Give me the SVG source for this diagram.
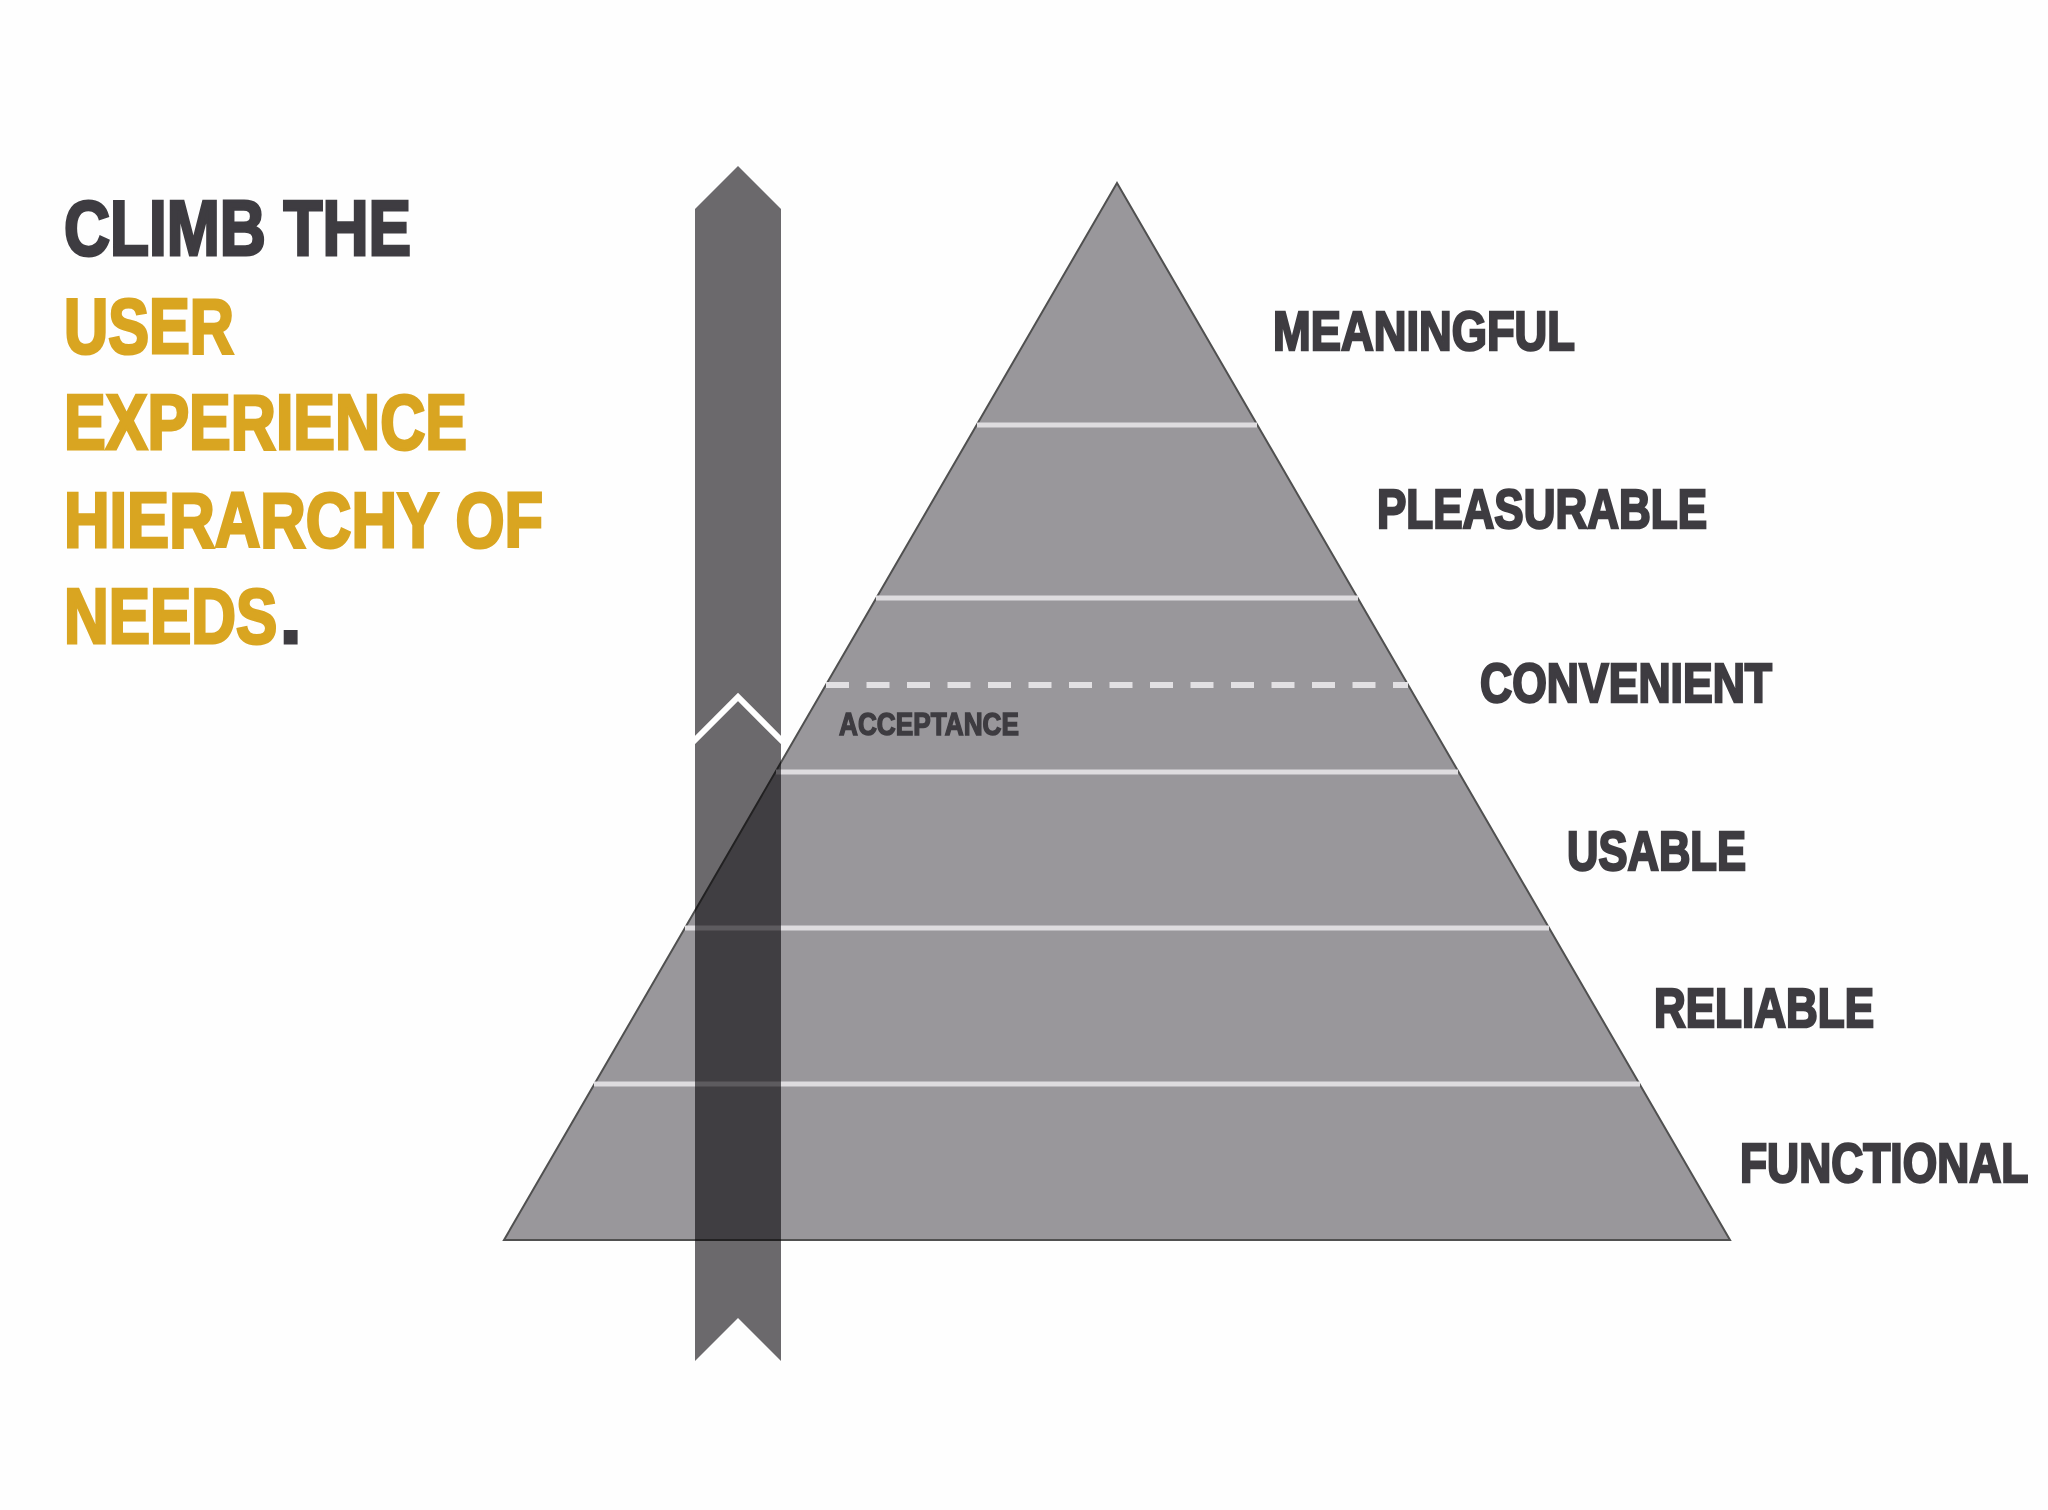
<svg xmlns="http://www.w3.org/2000/svg" width="2048" height="1510" viewBox="0 0 2048 1510">
<style>
.t{font-family:"Liberation Sans",Arial,sans-serif;font-weight:bold;stroke-linejoin:miter;}
.dk{fill:#3e3c41;stroke:#3e3c41;}
.gd{fill:#d9a521;stroke:#d9a521;}
.lvl{stroke:#dedcdf;stroke-width:5;fill:none;}
</style>
<rect width="2048" height="1510" fill="#fefefe"/>
<g id="title" class="t" font-size="77" stroke-width="3">
<text class="dk" x="64" y="255" textLength="347" lengthAdjust="spacingAndGlyphs">CLIMB THE</text>
<text class="gd" x="64" y="353" textLength="170" lengthAdjust="spacingAndGlyphs">USER</text>
<text class="gd" x="64" y="449" textLength="403" lengthAdjust="spacingAndGlyphs">EXPERIENCE</text>
<text class="gd" x="64" y="547" textLength="479" lengthAdjust="spacingAndGlyphs">HIERARCHY OF</text>
<text class="gd" transform="translate(64,643) scale(0.804,1)" x="0" y="0">NEEDS</text>
<text class="dk" x="280" y="643">.</text>
</g>
<g id="pyramid">
<polygon points="1117,183 1730,1240 504,1240" fill="#99979b" stroke="#505050" stroke-width="2" stroke-linejoin="miter"/>
<line class="lvl" x1="977" y1="425" x2="1257" y2="425"/>
<line class="lvl" x1="876" y1="598" x2="1358" y2="598"/>
<line x1="826" y1="685" x2="1408" y2="685" stroke="#e2e0e3" stroke-width="6" stroke-dasharray="23 17.5"/>
<line class="lvl" x1="776" y1="772" x2="1458" y2="772"/>
<line class="lvl" x1="685" y1="928" x2="1549" y2="928"/>
<line class="lvl" x1="594" y1="1084" x2="1640" y2="1084"/>
</g>
<g id="arrow">
<polygon points="695,209 738,166 781,209 781,1361 738,1318 695,1361" fill="#6b696c" style="mix-blend-mode:multiply"/>
<polyline points="693,742 738,697 783,742" fill="none" stroke="#ffffff" stroke-width="6"/>
</g>
<g id="labels" class="t dk" stroke-width="2.5">
<text x="1273" y="350" font-size="55" textLength="302" lengthAdjust="spacingAndGlyphs">MEANINGFUL</text>
<text x="1377" y="528" font-size="55" textLength="330" lengthAdjust="spacingAndGlyphs">PLEASURABLE</text>
<text x="1480" y="702" font-size="55" textLength="292" lengthAdjust="spacingAndGlyphs">CONVENIENT</text>
<text x="1567" y="870" font-size="55" textLength="179" lengthAdjust="spacingAndGlyphs">USABLE</text>
<text x="1654" y="1027" font-size="55" textLength="220" lengthAdjust="spacingAndGlyphs">RELIABLE</text>
<text transform="translate(1740,1182) scale(0.807,1)" x="0" y="0" font-size="55">FUNCTIONAL</text>
<text x="839" y="735" font-size="32" stroke-width="1.5" textLength="180" lengthAdjust="spacingAndGlyphs">ACCEPTANCE</text>
</g>
</svg>
